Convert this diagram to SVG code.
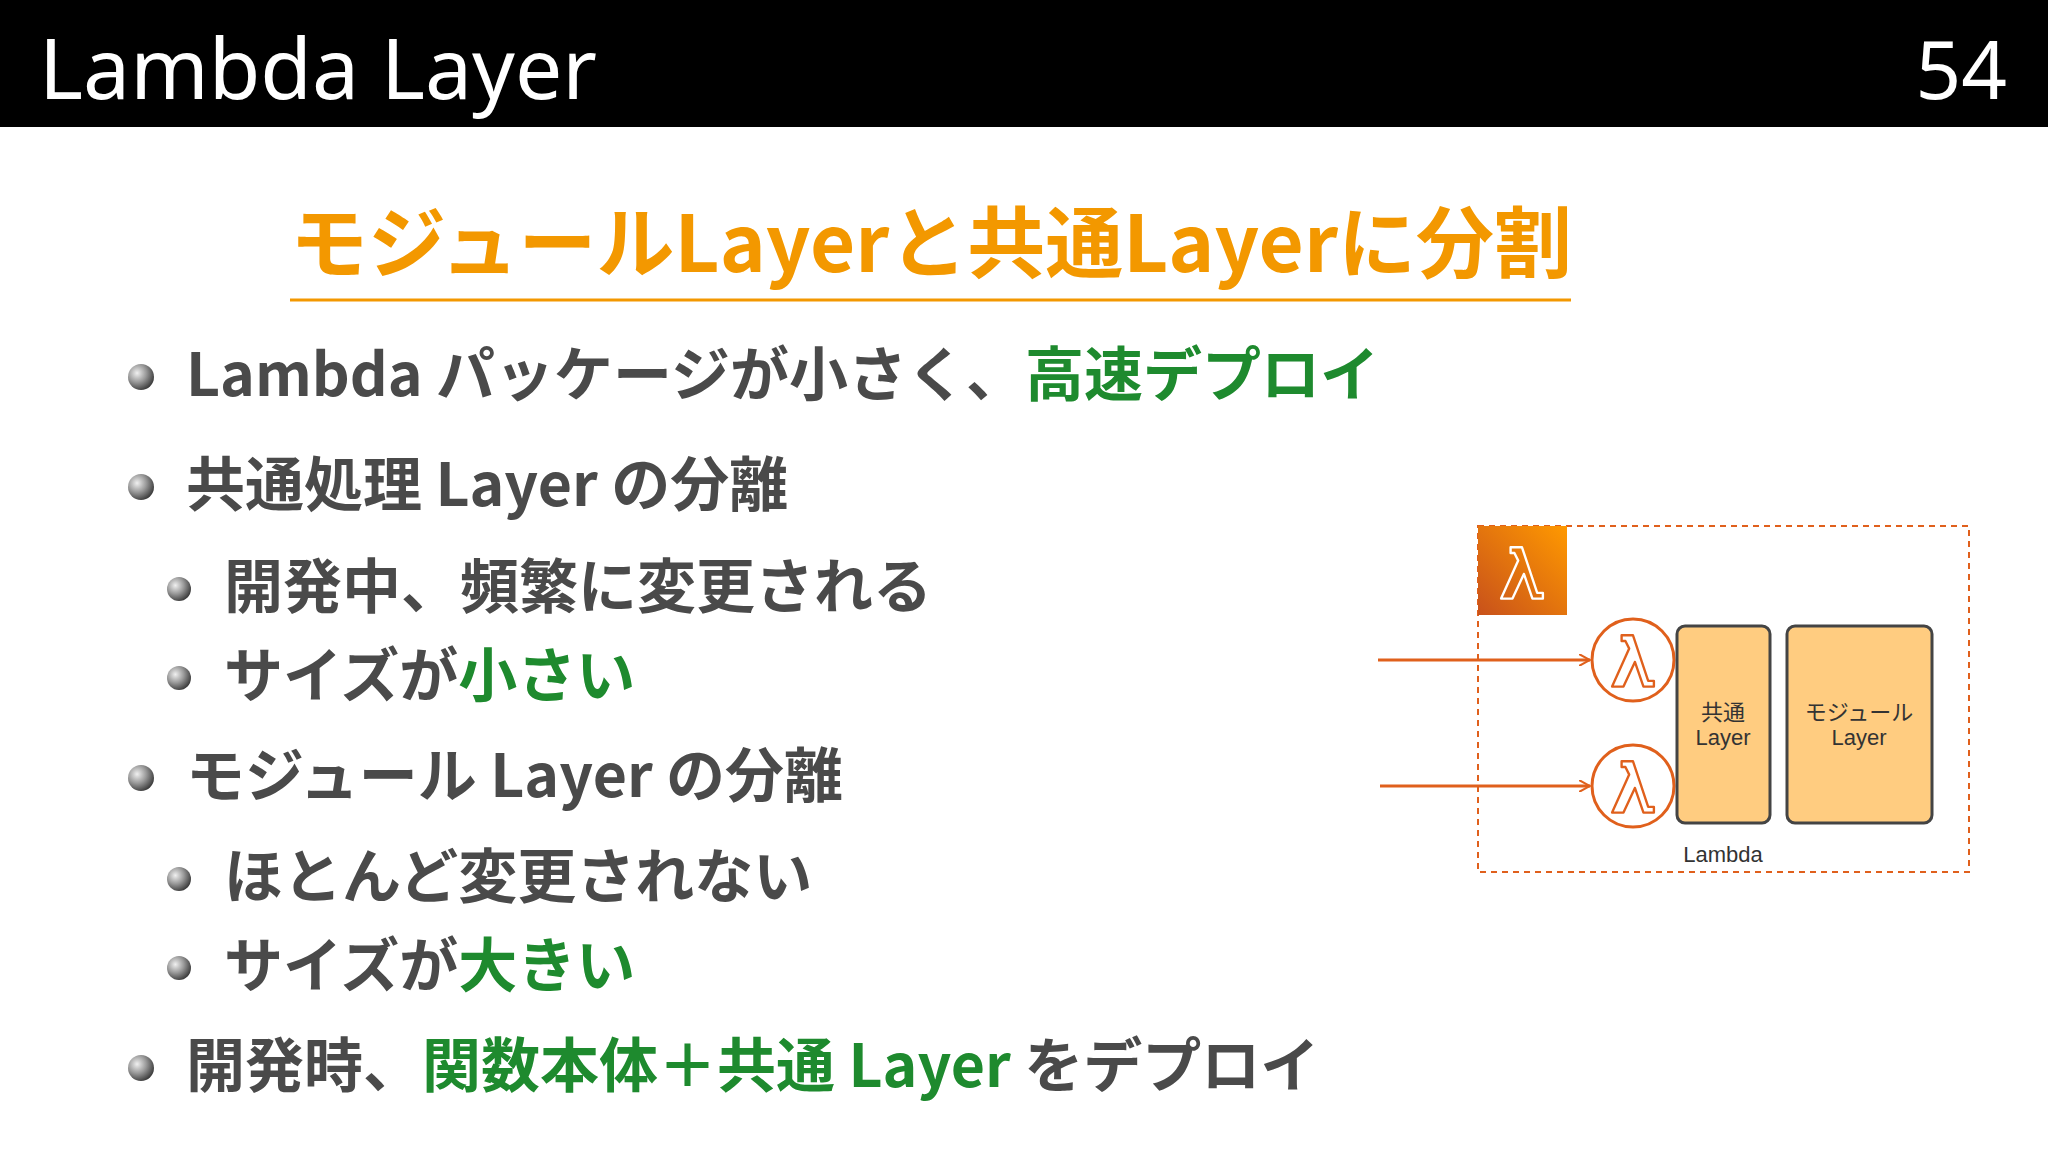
<svg xmlns="http://www.w3.org/2000/svg" width="2048" height="1152" viewBox="0 0 2048 1152">
<defs>
<radialGradient id="ball" cx="0.35" cy="0.35" r="0.7"><stop offset="0" stop-color="#f0f0f0"/><stop offset="0.5" stop-color="#9a9a9a"/><stop offset="1" stop-color="#3a3a3a"/></radialGradient>
<linearGradient id="aws" x1="0" y1="1" x2="1" y2="0"><stop offset="0" stop-color="#c8511b"/><stop offset="1" stop-color="#ff9900"/></linearGradient>
<marker id="arr" viewBox="0 0 12 12" refX="11" refY="6" markerWidth="12" markerHeight="12" markerUnits="userSpaceOnUse" orient="auto"><path d="M0,0 L11,6 L0,12" fill="none" stroke="#e0601c" stroke-width="2"/></marker>
<path id="lam" d="M-12,-26 L0,-26 L16,22 L22,22 L22,28 L11,28 L2,2 L-10,28 L-22,28 L-4,-12 L-8,-20 L-12,-20 Z" fill="none" stroke-width="2.5" stroke-linejoin="round"/>
</defs>
<style>
.b{font-family:"Noto Sans CJK JP",sans-serif;font-weight:700;font-size:59px;fill:#4a4a4a}
.g{fill:#1e8a2e}
.s{font-family:"Liberation Sans","Noto Sans CJK JP",sans-serif;font-size:22px;fill:#333;text-anchor:middle}
.box{fill:#ffcc80;stroke:#444;stroke-width:3}
</style>
<rect width="2048" height="1152" fill="#fff"/>
<rect width="2048" height="127" fill="#000"/>
<text x="39" y="99" font-family="Noto Sans, sans-serif" font-size="84" fill="#fff">Lambda Layer</text>
<text x="2007" y="99" font-family="Noto Sans, sans-serif" font-size="80" fill="#fff" text-anchor="end">54</text>
<text x="931" y="272" font-family="Noto Sans CJK JP, sans-serif" font-weight="700" font-size="78" fill="#f39800" text-anchor="middle">モジュールLayerと共通Layerに分割</text>
<line x1="290" y1="300" x2="1571" y2="300" stroke="#f39800" stroke-width="3"/>
<g id="bullets" fill="url(#ball)">
<circle cx="141" cy="377" r="13"/><circle cx="141" cy="487" r="13"/><circle cx="179" cy="589" r="12"/><circle cx="179" cy="678" r="12"/><circle cx="141" cy="778" r="13"/><circle cx="179" cy="879" r="12"/><circle cx="179" cy="968" r="12"/><circle cx="141" cy="1068" r="13"/>
</g>
<text class="b" x="186" y="396">Lambda パッケージが小さく、<tspan class="g">高速デプロイ</tspan></text>
<text class="b" x="186" y="506">共通処理 Layer の分離</text>
<text class="b" x="224" y="608">開発中、頻繁に変更される</text>
<text class="b" x="224" y="697">サイズが<tspan class="g">小さい</tspan></text>
<text class="b" x="186" y="797">モジュール Layer の分離</text>
<text class="b" x="224" y="898">ほとんど変更されない</text>
<text class="b" x="224" y="987">サイズが<tspan class="g">大きい</tspan></text>
<text class="b" x="186" y="1087">開発時、<tspan class="g">関数本体＋共通 Layer</tspan> をデプロイ</text>
<g id="group">
<rect x="1478" y="526" width="491" height="346" fill="none" stroke="#e0601c" stroke-width="2" stroke-dasharray="6,5"/>
<rect x="1478" y="526" width="89" height="89" fill="url(#aws)"/>
<use href="#lam" transform="translate(1522,572) scale(0.95)" stroke="#fff"/>
<text class="s" x="1723" y="862">Lambda</text>
</g>
<g id="fn1"><circle cx="1633" cy="660" r="41" fill="#fff" stroke="#e0601c" stroke-width="3"/><use href="#lam" transform="translate(1633,660) scale(0.95)" stroke="#e0601c"/></g>
<g id="fn2"><circle cx="1633" cy="786" r="41" fill="#fff" stroke="#e0601c" stroke-width="3"/><use href="#lam" transform="translate(1633,786) scale(0.95)" stroke="#e0601c"/></g>
<g id="common"><rect class="box" x="1677" y="626" width="93" height="197" rx="8"/><text class="s" x="1723" y="720">共通</text><text class="s" x="1723" y="745">Layer</text></g>
<g id="module"><rect class="box" x="1787" y="626" width="145" height="197" rx="8"/><text class="s" x="1859" y="720">モジュール</text><text class="s" x="1859" y="745">Layer</text></g>
<g id="connectors" stroke="#e0601c" stroke-width="3" fill="none">
<line x1="1378" y1="660" x2="1590" y2="660" marker-end="url(#arr)"/>
<line x1="1380" y1="786" x2="1590" y2="786" marker-end="url(#arr)"/>
</g>
</svg>
